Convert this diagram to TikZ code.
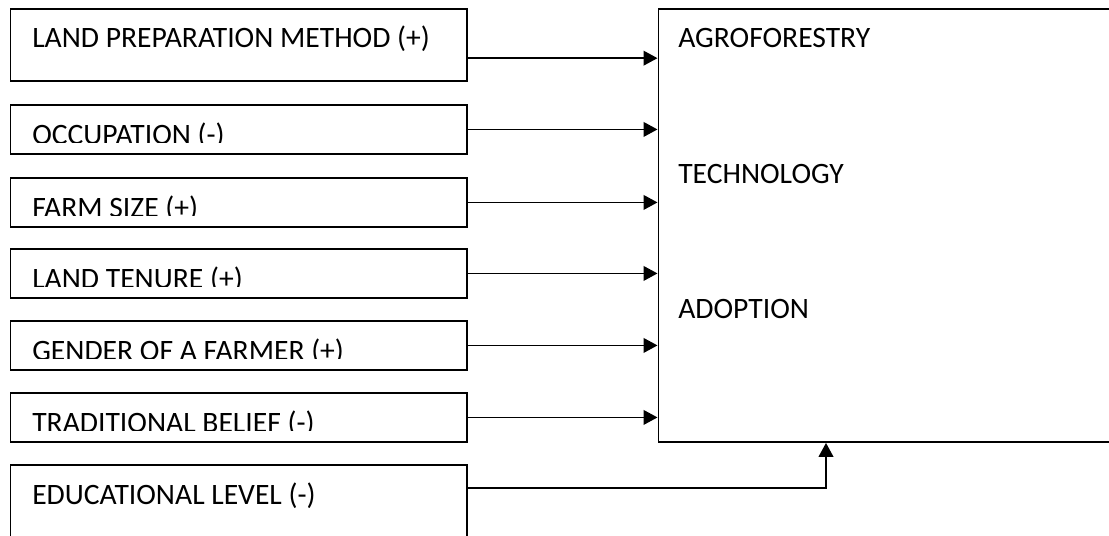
\documentclass[tikz,border=0pt]{standalone}
\usepackage{fontspec}
\setmainfont{Carlito}
\usetikzlibrary{positioning,calc,arrows.meta}

\begin{document}
\begin{tikzpicture}[x=0.75pt,y=-0.75pt,
   factor/.style={draw,line width=1.4pt,anchor=north west,inner sep=0pt,minimum width=342.4pt},
   lbl/.style={anchor=base west,inner sep=0pt,font=\fontsize{22.2}{26}\selectfont},
   link/.style={line width=1.4pt,-{Triangle[length=10.5pt,width=11pt]}}]
\clip (0,0) rectangle (1109,535);
%% ---- outcome box ----
\node[draw,line width=1.4pt,anchor=north west,inner sep=0pt,
      minimum width=350pt,minimum height=324.4pt] (ab) at (657.5,8.5) {};
\node[lbl] (ab-1) at ($(ab.north west)+(20.5,39.2)$) {AGROFORESTRY};
\node[lbl] (ab-2) at ($(ab.north west)+(20.5,175.2)$) {TECHNOLOGY};
\node[lbl] (ab-3) at ($(ab.north west)+(20.5,310.2)$) {ADOPTION};
%% ---- factors ----
\node[factor,minimum height=53.6pt] (lp) at (9.5,8.5) {};
\node[lbl] (lp-t) at ($(lp.north west)+(22.5,39)$) {LAND PREPARATION METHOD (+)};
\coordinate (lp-out) at ($(lp.east)+(0,13)$);
\draw[link] (lp-out) -- (lp-out -| ab.west);
\foreach \nm/\ty/\txt in {occ/104/{OCCUPATION (-)},farm/177/{FARM SIZE (+)},
    ten/248/{LAND TENURE (+)},gen/320/{GENDER OF A FARMER (+)},
    trad/392/{TRADITIONAL BELIEF (-)}}{
  \node[factor,minimum height=36.75pt] (\nm) at (9.5,\ty) {};
  \begin{scope}
    \clip (\nm.north west) rectangle ($(\nm.south east)+(0,-12)$); % text cut off as in the box
    \node[lbl] (\nm-t) at ($(\nm.north west)+(22.5,40)$) {\txt};
  \end{scope}
  \draw[link] (\nm.east) -- (\nm.east -| ab.west);
}
\node[factor,minimum height=80pt] (edu) at (9.5,464) {};
\node[lbl] (edu-t) at ($(edu.north west)+(22.5,40)$) {EDUCATIONAL LEVEL (-)};
\coordinate (edu-out) at ($(edu.north east)+(0,24)$);
\coordinate (ab-in) at ($(ab.south west)+(168.5,0)$);
\draw[link] (edu-out) -| (ab-in);
\end{tikzpicture}
\end{document}
